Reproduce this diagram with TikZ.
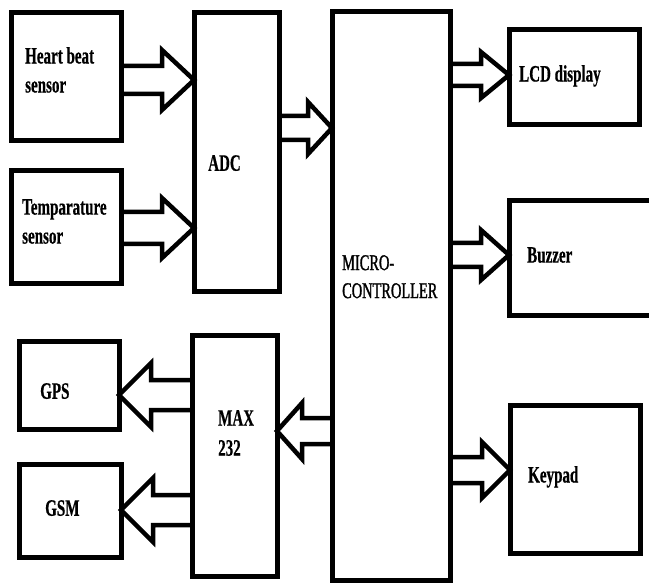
\documentclass[tikz,border=0pt]{standalone}
\usepackage{fontspec}
\setmainfont{Liberation Serif}[FakeStretch=0.64,BoldFeatures={FakeBold=0.5}]
\newfontfamily\mcfont{Liberation Serif}[FakeStretch=0.64,FakeBold=1.2]
\usetikzlibrary{calc}
\newcommand\barrow[5]{%
  \draw[arrowline] ($(#1)+(0,#3)$) -- ($(#2)!#5!(#1)+(0,#3)$) -- ($(#2)!#5!(#1)+(0,#4)$)
    -- (#2) -- ($(#2)!#5!(#1)+(0,-#4)$) -- ($(#2)!#5!(#1)+(0,-#3)$) -- ($(#1)+(0,-#3)$);}
\begin{document}
\begin{tikzpicture}[x=1pt,y=-1pt,
  box/.style={draw,line width=5pt,inner sep=0pt,outer sep=0pt,line join=miter},
  lbl/.style={anchor=north west,inner sep=0pt,align=left,font=\fontsize{23.5}{29}\selectfont\bfseries},
  arrowline/.style={line width=4.5pt,line join=miter,miter limit=10}]
\useasboundingbox (0,0) rectangle (649,583);
\clip (0,0) rectangle (649,583);
% boxes
\node[box,minimum width=110pt,minimum height=128pt] (hb) at (66,77) {};
\node[box,minimum width=110pt,minimum height=113pt] (tmp) at (66,227.5) {};
\node[box,minimum width=85pt,minimum height=279pt] (adc) at (236.5,152.5) {};
\node[box,minimum width=118pt,minimum height=568pt] (mc) at (391,296) {};
\node[box,minimum width=130pt,minimum height=95pt] (lcd) at (574,77.5) {};
\node[box,minimum width=144pt,minimum height=115pt] (buz) at (581,258.5) {};
\node[box,minimum width=130pt,minimum height=148pt] (key) at (575,479) {};
\node[box,minimum width=100pt,minimum height=87pt] (gps) at (69,385.5) {};
\node[box,minimum width=102pt,minimum height=93pt] (gsm) at (70,510.5) {};
\node[box,minimum width=85pt,minimum height=240pt] (max) at (234.5,456) {};
% labels
\node[lbl] (thb) at (25,47) {Heart beat\\sensor};
\node[lbl] (ttmp) at (22,199) {Temparature\\sensor};
\node[lbl] (tadc) at (208,155) {ADC};
\node[lbl,font=\fontsize{22.5}{28}\selectfont\mcfont] (tmc) at (342,255) {MICRO-\\CONTROLLER};
\node[lbl] (tlcd) at (519,65) {LCD display};
\node[lbl] (tbuz) at (527,247) {Buzzer};
\node[lbl] (tkey) at (528,466) {Keypad};
\node[lbl] (tgps) at (40,383) {GPS};
\node[lbl] (tgsm) at (45,500) {GSM};
\node[lbl,font=\fontsize{23.5}{30}\selectfont\bfseries] (tmax) at (218,410) {MAX\\232};
% block arrows
\barrow{hb.east |- 0,80}{adc.west |- 0,80}{14}{30}{32pt}
\barrow{tmp.east |- 0,228}{adc.west |- 0,228}{16}{30}{32pt}
\barrow{adc.east |- 0,128}{mc.west |- 0,128}{12}{26}{24pt}
\barrow{mc.east |- 0,75}{lcd.west |- 0,75}{11}{23}{28pt}
\barrow{mc.east |- 0,255}{buz.west |- 0,255}{12}{25}{28pt}
\barrow{mc.east |- 0,470}{key.west |- 0,470}{13}{28}{28pt}
\barrow{mc.west |- 0,431}{max.east |- 0,431}{13}{28}{25pt}
\barrow{max.west |- 0,395}{gps.east |- 0,395}{15}{32}{32pt}
\barrow{max.west |- 0,510}{gsm.east |- 0,510}{15}{32}{32pt}
\end{tikzpicture}
\end{document}
